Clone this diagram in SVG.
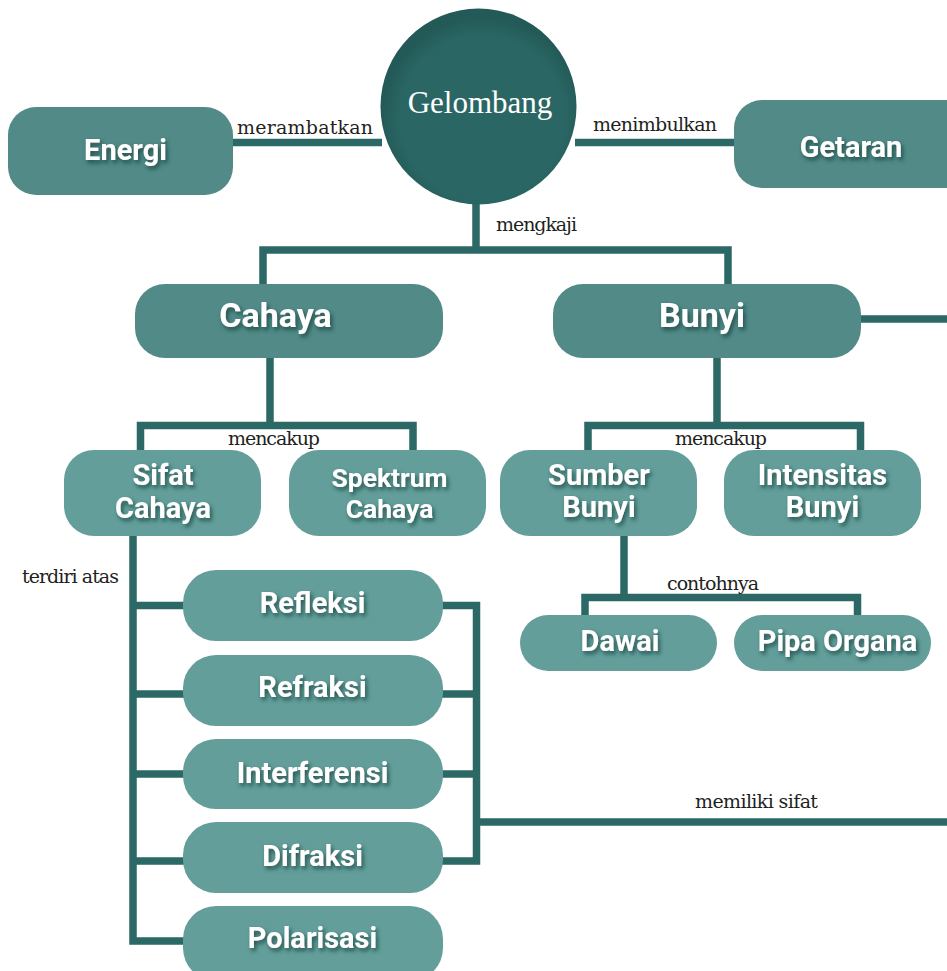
<svg xmlns="http://www.w3.org/2000/svg" width="947" height="971" viewBox="0 0 947 971">
<defs>
<radialGradient id="gCircle" cx="52%" cy="56%" r="52%">
<stop offset="0.8" stop-color="#2a6764"/>
<stop offset="1" stop-color="#235957"/>
</radialGradient>
<filter id="tshadow" x="-20%" y="-30%" width="140%" height="170%">
<feDropShadow dx="2" dy="3" stdDeviation="2" flood-color="#173a38" flood-opacity="0.75"/>
</filter>
</defs>
<style>
.dark{fill:#518a87;}
.light{fill:#639e9a;}
.t{font-family:Roboto,"Liberation Sans",sans-serif;font-weight:700;fill:#ffffff;text-anchor:middle;filter:url(#tshadow);}
.s28{font-size:29px;}
.s34{font-size:34px;}
.s26{font-size:26.5px;}
.lbl{font-family:"DejaVu Serif","Liberation Serif",serif;font-size:19px;fill:#231f20;}
.con{fill:none;stroke:#2b6866;stroke-width:7.5;stroke-linejoin:miter;stroke-linecap:butt;}
</style>
<rect width="947" height="971" fill="#ffffff"/>

<g id="connectors">
<path class="con" d="M233 142.5 H382"/>
<path class="con" d="M575 142.5 H735"/>
<path class="con" d="M476 203 V250 M263 284 V250 H728 V284"/>
<path class="con" d="M860 319 H947"/>
<path class="con" d="M270 357 V425.5 M140.5 451 V425.5 H413 V451"/>
<path class="con" d="M717 357 V425.5 M588 451 V425.5 H860.5 V451"/>
<path class="con" d="M624 535 V597.5 M585 616 V597.5 H857.5 V616"/>
<path class="con" d="M133 535 V941 H184 M133 605.5 H184 M133 694 H184 M133 774 H184 M133 861 H184"/>
<path class="con" d="M442 605.5 H476.5 V861 H442 M442 694 H476.5 M442 774 H476.5 M476.5 822 H947"/>
</g>

<g id="labels">
<text class="lbl" x="237" y="134" textLength="136" lengthAdjust="spacing">merambatkan</text>
<text class="lbl" x="593" y="131" textLength="124" lengthAdjust="spacing">menimbulkan</text>
<text class="lbl" x="496" y="231" textLength="81" lengthAdjust="spacing">mengkaji</text>
<text class="lbl" x="228" y="445" textLength="92" lengthAdjust="spacing">mencakup</text>
<text class="lbl" x="675" y="445" textLength="92" lengthAdjust="spacing">mencakup</text>
<text class="lbl" x="667" y="590" textLength="92" lengthAdjust="spacing">contohnya</text>
<text class="lbl" x="22" y="583" textLength="97" lengthAdjust="spacing">terdiri atas</text>
<text class="lbl" x="695" y="808" textLength="123" lengthAdjust="spacing">memiliki sifat</text>
</g>

<g id="node-gelombang">
<circle cx="478.5" cy="106.5" r="98" fill="url(#gCircle)"/>
<text x="480" y="113" font-family="'Liberation Serif',serif" font-size="31" fill="#ffffff" text-anchor="middle">Gelombang</text>
</g>

<g id="node-energi">
<rect class="dark" x="8" y="107" width="225" height="88" rx="28"/>
<text class="t s28" x="125.5" y="160">Energi</text>
</g>

<g id="node-getaran">
<rect class="dark" x="734" y="100" width="240" height="88" rx="28"/>
<text class="t s28" x="851" y="157">Getaran</text>
</g>

<g id="node-cahaya">
<rect class="dark" x="135" y="284" width="308" height="74" rx="30"/>
<text class="t s34" x="275.5" y="327">Cahaya</text>
</g>

<g id="node-bunyi">
<rect class="dark" x="553" y="284" width="308" height="74" rx="30"/>
<text class="t s34" x="702" y="327">Bunyi</text>
</g>

<g id="node-sifat-cahaya">
<rect class="light" x="64" y="450" width="197" height="86" rx="30"/>
<text class="t s28" x="163" y="485">Sifat</text>
<text class="t s28" x="163" y="518">Cahaya</text>
</g>

<g id="node-spektrum-cahaya">
<rect class="light" x="289" y="450" width="197" height="86" rx="30"/>
<text class="t s26" x="389.5" y="487">Spektrum</text>
<text class="t s26" x="389.5" y="518">Cahaya</text>
</g>

<g id="node-sumber-bunyi">
<rect class="light" x="500" y="450" width="197" height="86" rx="30"/>
<text class="t s28" x="599" y="485">Sumber</text>
<text class="t s28" x="599" y="517">Bunyi</text>
</g>

<g id="node-intensitas-bunyi">
<rect class="light" x="724" y="450" width="197" height="86" rx="30"/>
<text class="t s28" x="822.5" y="485">Intensitas</text>
<text class="t s28" x="822.5" y="517">Bunyi</text>
</g>

<g id="node-dawai">
<rect class="light" x="520" y="615" width="197" height="56" rx="28"/>
<text class="t s28" x="620" y="651">Dawai</text>
</g>

<g id="node-pipa-organa">
<rect class="light" x="734" y="615" width="197" height="56" rx="28"/>
<text class="t s28" x="837.5" y="651">Pipa Organa</text>
</g>

<g id="node-refleksi">
<rect class="light" x="183" y="570" width="260" height="71" rx="33"/>
<text class="t s28" x="312.5" y="613">Refleksi</text>
</g>

<g id="node-refraksi">
<rect class="light" x="183" y="655" width="260" height="71" rx="33"/>
<text class="t s28" x="312.5" y="697">Refraksi</text>
</g>

<g id="node-interferensi">
<rect class="light" x="183" y="739" width="260" height="70" rx="33"/>
<text class="t s28" x="312.5" y="783">Interferensi</text>
</g>

<g id="node-difraksi">
<rect class="light" x="183" y="822" width="260" height="71" rx="33"/>
<text class="t s28" x="312.5" y="866">Difraksi</text>
</g>

<g id="node-polarisasi">
<rect class="light" x="183" y="906" width="260" height="75" rx="33"/>
<text class="t s28" x="312.5" y="948">Polarisasi</text>
</g>
</svg>
